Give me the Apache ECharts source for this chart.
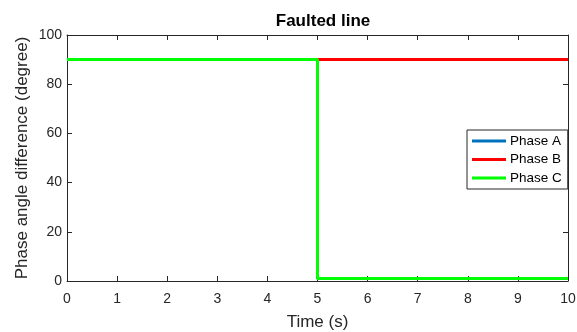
<!DOCTYPE html>
<html>
<head>
<meta charset="utf-8">
<script src="https://cdn.jsdelivr.net/npm/echarts@6/dist/echarts.min.js"></script>
<style>
  html, body { margin: 0; padding: 0; background: #fff; }
  #chart { width: 577px; height: 332px; }
</style>
</head>
<body>
<div id="chart"></div>
<script>
// Phase angle difference over time on the faulted line
const timeA = [0, 5, 5, 10];
const phaseA = [90, 90, 1, 1];
const timeB = [0, 10];
const phaseB = [90, 90];
const timeC = [0, 5, 5, 10];
const phaseC = [90, 90, 1, 1];
const xTicks = [0, 1, 2, 3, 4, 5, 6, 7, 8, 9, 10];
const yTicks = [0, 20, 40, 60, 80, 100];
const seriesNames = ['Phase A', 'Phase B', 'Phase C'];

const FONT = 'Liberation Sans, Arial, Helvetica, sans-serif';
const INK = '#262626';

function pairs(xs, ys) { return xs.map((x, i) => [x, ys[i]]); }

const chart = echarts.init(document.getElementById('chart'), null, { renderer: 'canvas' });

const tickStyle = { show: true, inside: true, length: 5, lineStyle: { color: INK, width: 1 } };
const lineStyleAxis = { show: true, onZero: false, lineStyle: { color: INK, width: 1 } };

chart.setOption({
  animation: false,
  backgroundColor: '#fff',
  title: {
    text: 'Faulted line',
    left: 318, textAlign: 'center',
    top: 8,
    textStyle: { fontFamily: FONT, fontSize: 17, fontWeight: 'bold', color: '#000' }
  },
  grid: { left: 67, right: 9, top: 35, bottom: 51, containLabel: false, outerBoundsMode: 'none' },
  legend: {
    orient: 'vertical',
    left: 467, top: 130,
    width: 101,
    padding: [4, 6, 4, 5],
    itemGap: 4.5,
    itemWidth: 34, itemHeight: 3,
    icon: 'rect',
    backgroundColor: '#fff',
    borderColor: INK, borderWidth: 1,
    textStyle: { fontFamily: FONT, fontSize: 13.5, color: '#000', lineHeight: 14, padding: [0, 0, 0, -1] },
    data: seriesNames
  },
  xAxis: [{
    type: 'value', min: xTicks[0], max: xTicks[xTicks.length - 1], interval: 1,
    name: 'Time (s)', nameLocation: 'middle', nameGap: 33, nameMoveOverlap: false,
    nameTextStyle: { fontFamily: FONT, fontSize: 17, color: INK },
    axisLine: lineStyleAxis, axisTick: tickStyle,
    axisLabel: { fontFamily: FONT, fontSize: 14, color: INK, margin: 11 },
    splitLine: { show: false }
  }, {
    type: 'value', position: 'top', min: 0, max: 10, interval: 1,
    axisLine: lineStyleAxis, axisTick: tickStyle,
    axisLabel: { show: false }, splitLine: { show: false }
  }],
  yAxis: [{
    type: 'value', min: yTicks[0], max: yTicks[yTicks.length - 1], interval: 20,
    name: 'Phase angle difference (degree)', nameLocation: 'middle', nameGap: 36, nameMoveOverlap: false,
    nameTextStyle: { fontFamily: FONT, fontSize: 17, color: INK },
    axisLine: lineStyleAxis, axisTick: tickStyle,
    axisLabel: { fontFamily: FONT, fontSize: 14, color: INK, margin: 5 },
    splitLine: { show: false }
  }, {
    type: 'value', position: 'right', min: 0, max: 100, interval: 20,
    axisLine: lineStyleAxis, axisTick: tickStyle,
    axisLabel: { show: false }, splitLine: { show: false }
  }],
  series: [
    { name: seriesNames[0], type: 'line', data: pairs(timeA, phaseA), showSymbol: false,
      lineStyle: { width: 3, color: '#0072BD' }, itemStyle: { color: '#0072BD' } },
    { name: seriesNames[1], type: 'line', data: pairs(timeB, phaseB), showSymbol: false,
      lineStyle: { width: 3, color: '#FF0000' }, itemStyle: { color: '#FF0000' } },
    { name: seriesNames[2], type: 'line', data: pairs(timeC, phaseC), showSymbol: false,
      lineStyle: { width: 3, color: '#00FF00' }, itemStyle: { color: '#00FF00' } }
  ]
});
</script>
</body>
</html>
